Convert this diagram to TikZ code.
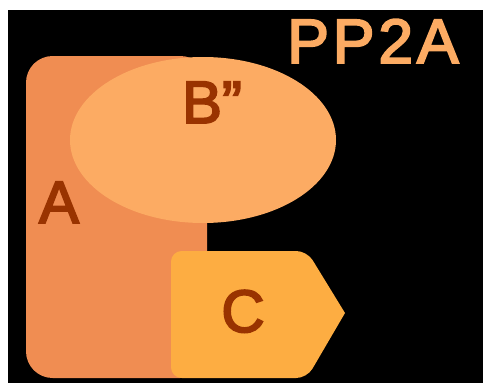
\documentclass[tikz,border=0pt]{standalone}
\usepackage{fontspec}
\setmainfont{Liberation Sans}
\newfontfamily\thick[FakeBold=3]{Liberation Sans}
\newfontfamily\thickwide[FakeBold=3,LetterSpace=6]{Liberation Sans}
\definecolor{colA}{RGB}{240,141,82}
\definecolor{colB}{RGB}{252,171,99}
\definecolor{colC}{RGB}{253,173,66}
\definecolor{txt}{RGB}{153,51,0}
\begin{document}
\begin{tikzpicture}[x=0.75pt,y=-0.75pt,
  lbl/.style={text=txt,font=\thick\fontsize{45}{45}\selectfont,inner sep=0pt,anchor=base},
  ttl/.style={text=colB,font=\thickwide\fontsize{47}{47}\selectfont,inner sep=0pt,anchor=base}]
\useasboundingbox (0,0) rectangle (483,383);
\fill[white] (0,0) rectangle (483,383);
\fill[black] (8,10) rectangle (483,383);
% A subunit
\fill[colA,rounded corners=20] (26,56) rectangle (207,378);
% B'' subunit
\fill[colB] (203,140) ellipse [x radius=133,y radius=83];
% C subunit
\fill[colC,rounded corners=8] (171,314) -- (171,251) -- (307,251) [sharp corners] -- (345,313) [rounded corners=8] -- (307,378) -- (171,378) -- cycle;
\node[lbl] (a) at (59,223) {A};
\node[lbl] (b) at (212,123) {B”};
\node[lbl] (c) at (243,332) {C};
\node[ttl] (t) at (373,63) {PP2A};
\end{tikzpicture}
\end{document}
